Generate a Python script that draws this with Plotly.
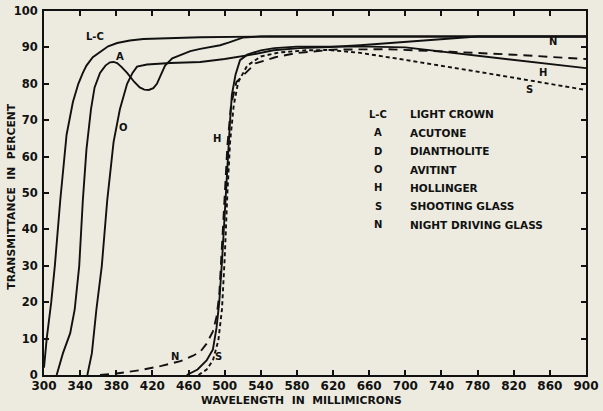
import plotly.graph_objects as go

# ---- data ----
lc_wl = [300, 303, 308, 312, 318, 325, 332, 338, 343, 347, 354, 362, 371, 381, 395, 410, 440, 473, 550, 650, 900]
lc_t  = [2,   10,  20,  30,  48,  66,  75,  80,  83,  85,  87.3, 88.8, 90.3, 91.2, 91.9, 92.3, 92.6, 92.8, 93, 93, 93]

a_wl = [314, 321, 329, 334, 339, 343, 347, 352, 356, 362, 368, 373, 377, 381, 386, 392, 400, 406, 411, 416, 421, 425, 430, 434, 442, 451, 462, 473, 484, 495, 505, 513, 520, 540, 900]
a_t  = [0,   6,   11.5, 18, 30,  48,  62,  73,  79,  83,  85,  85.9, 86, 85.7, 84.6, 83, 80.5, 79, 78.4, 78.3, 78.8, 80, 82.8, 85, 87, 88, 89, 89.6, 90, 90.6, 91.4, 92.2, 92.7, 93, 93]

o_wl = [348, 353, 358, 364, 370, 377, 384, 392, 398, 403, 414, 440, 473, 500, 530, 554, 583, 617, 650, 700, 740, 780, 900]
o_t  = [0,   6,   18,  30,  48,  64,  73,  80,  83,  84.7, 85.3, 85.7, 86, 86.8, 88, 89.2, 89.8, 90.1, 90.6, 91.6, 92.3, 93, 93]

h_wl = [458, 470, 480, 487, 491, 494, 497, 500, 503, 506, 508, 512, 517, 525, 540, 555, 580, 620, 660, 700, 800, 900]
h_t  = [0,   1.5, 4,   7,   13,  20,  31,  45,  59,  70,  77,  82.5, 86.5, 88, 89.2, 89.8, 90.2, 90.3, 90.2, 90, 87.2, 84.3]

s_wl = [471, 480, 487, 493, 497, 500, 503, 506, 510, 515, 525, 540, 560, 590, 615, 650, 694, 750, 800, 850, 900]
s_t  = [0,   1.5, 4,   9.5, 18,  32,  50,  64,  74,  80.5, 85,  87.5, 88.6, 89.2, 89.3, 88.5, 86.8, 84.6, 82.5, 80.4, 78.3]

n_wl = [362, 380, 406, 430, 451, 465, 473, 480, 487, 491, 494, 497, 500, 503, 507, 513, 523, 534, 556, 578, 620, 680, 750, 820, 900]
n_t  = [0,   0.4, 1.3, 2.5, 3.8, 5.3, 6.4, 8.6, 12,  16,  22,  34,  49,  63,  74,  80.5, 83,  85.6, 87.3, 88.4, 89.4, 89.5, 88.8, 88, 86.8]

x_ticks = list(range(300, 901, 40))
y_ticks = list(range(0, 101, 10))

legend_codes = ["L-C", "A", "D", "O", "H", "S", "N"]
legend_names = ["LIGHT CROWN", "ACUTONE", "DIANTHOLITE", "AVITINT", "HOLLINGER",
                "SHOOTING GLASS", "NIGHT DRIVING GLASS"]

curve_labels = ["L-C", "A", "O", "H", "N", "S", "N", "H", "S"]
label_x = [357, 384, 388, 492, 445, 493, 863, 852, 838]
label_y = [93, 87.5, 68, 65, 5, 5, 91.5, 83, 78.5]

BG = "#edebdf"
FONT = "DejaVu Sans"

fig = go.Figure()
series = [
    (lc_wl, lc_t, "solid", "Light Crown"),
    (a_wl, a_t, "solid", "Acutone"),
    (o_wl, o_t, "solid", "Avitint"),
    (h_wl, h_t, "solid", "Hollinger"),
    (n_wl, n_t, "9px,6px", "Night Driving Glass"),
    (s_wl, s_t, "4px,3px", "Shooting Glass"),
]
for xs, ys, dash, name in series:
    fig.add_trace(go.Scatter(x=xs, y=ys, mode="lines", name=name,
                             line=dict(color="#111", width=1.9, dash=dash),
                             showlegend=False, hoverinfo="skip"))

annotations = []
for t, x, y in zip(curve_labels, label_x, label_y):
    annotations.append(dict(x=x, y=y, xref="x", yref="y", text=t, showarrow=False,
                            font=dict(family=FONT, size=10, color="#111", weight="bold")))

for i, (c, n) in enumerate(zip(legend_codes, legend_names)):
    yy = 0.716 - i * 0.0505
    annotations.append(dict(x=0.617, y=yy, xref="paper", yref="paper", text=c, showarrow=False,
                            xanchor="center", yanchor="middle",
                            font=dict(family=FONT, size=10, color="#111", weight="bold")))
    annotations.append(dict(x=0.672, y=yy, xref="paper", yref="paper", text=n, showarrow=False,
                            xanchor="left", yanchor="middle",
                            font=dict(family=FONT, size=10.5, color="#111", weight="bold")))

# axis titles
annotations.append(dict(x=0.475, y=-0.0714, xref="paper", yref="paper",
                        text="WAVELENGTH  IN  MILLIMICRONS", showarrow=False,
                        xanchor="center", yanchor="middle",
                        font=dict(family=FONT, size=10.8, color="#111", weight="bold")))
annotations.append(dict(x=-0.059, y=0.49, xref="paper", yref="paper",
                        text="TRANSMITTANCE  IN  PERCENT", showarrow=False, textangle=-90,
                        xanchor="center", yanchor="middle",
                        font=dict(family=FONT, size=10.8, color="#111", weight="bold")))

fig.update_layout(
    width=603, height=411,
    margin=dict(l=44, r=17, t=11, b=36, autoexpand=False),
    paper_bgcolor=BG, plot_bgcolor=BG,
    annotations=annotations,
    font=dict(family=FONT, color="#111"),
)
fig.update_xaxes(range=[300, 900], tickvals=x_ticks, ticks="inside", ticklen=5, tickwidth=1.5,
                 tickcolor="#111", showline=True, linecolor="#111", linewidth=2, mirror="ticks",
                 showgrid=False, zeroline=False, automargin=False, ticklabelstandoff=-1,
                 tickfont=dict(family=FONT, size=12, weight="bold"))
fig.update_yaxes(range=[0, 100], tickvals=y_ticks, ticks="inside", ticklen=5, tickwidth=1.5,
                 tickcolor="#111", showline=True, linecolor="#111", linewidth=2, mirror="ticks",
                 showgrid=False, zeroline=False, automargin=False, ticklabelstandoff=2,
                 tickfont=dict(family=FONT, size=11.5, weight="bold"))

fig.write_html(
    "out.html",
    config={"displayModeBar": False},
    post_script="document.body.style.margin='0';document.body.style.background='%s';" % BG,
)
